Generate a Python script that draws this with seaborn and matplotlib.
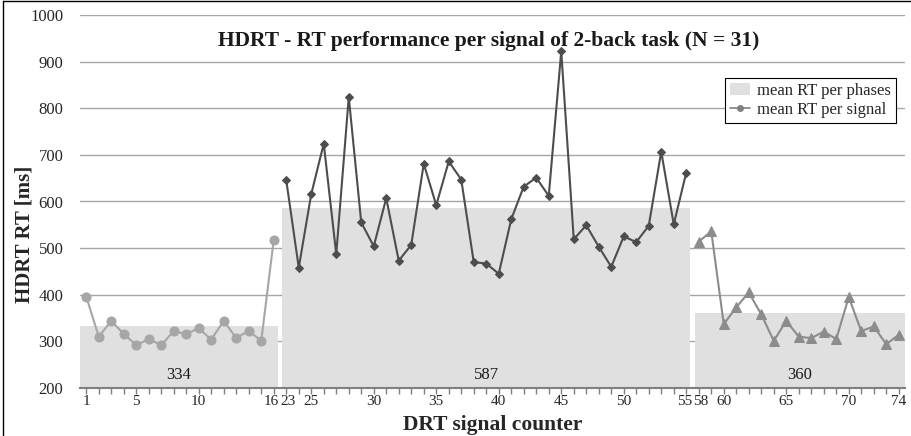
import matplotlib
matplotlib.use("Agg")
import matplotlib.pyplot as plt
import matplotlib.transforms as mtransforms
import seaborn as sns
import numpy as np
import pandas as pd
from matplotlib.patches import Patch
from matplotlib.lines import Line2D

# ---------------- data ----------------
signals_p1 = list(range(1, 17))
signals_p2 = list(range(23, 56))
signals_p3 = list(range(58, 75))

rt_p1 = [396, 310, 344, 316, 292, 305, 292, 322, 316, 328, 304, 344, 307, 323, 301, 518]
rt_p2 = [646, 458, 616, 724, 487, 824, 555, 504, 607, 473, 507, 681, 592, 686, 647, 470,
         467, 445, 562, 632, 651, 612, 922, 519, 549, 503, 460, 525, 513, 548, 707, 551, 662]
rt_p3 = [514, 536, 337, 373, 405, 358, 301, 344, 310, 307, 321, 305, 395, 322, 332, 294, 314]

phase_means = [334, 587, 360]
tick_signals = [1, 5, 10, 16, 23, 25, 30, 35, 40, 45, 50, 55, 58, 60, 65, 70, 74]

title = "HDRT - RT performance per signal of 2-back task (N = 31)"
xlabel = "DRT signal counter"
ylabel = "HDRT RT [ms]"

# ---------------- build table ----------------
signals = signals_p1 + signals_p2 + signals_p3
rts = rt_p1 + rt_p2 + rt_p3
phase = [1] * len(signals_p1) + [2] * len(signals_p2) + [3] * len(signals_p3)
df = pd.DataFrame({"signal": signals, "rt": rts, "phase": phase})
df["pos"] = np.arange(len(df))

sns.set_theme(style="white")
plt.rcParams["font.family"] = ["Liberation Serif", "DejaVu Serif"]

fig = plt.figure(figsize=(9.11, 4.36), dpi=100)
ax = fig.add_axes([80 / 911, 48 / 436, 825 / 911, 373 / 436])

# gridlines
ax.set_ylim(200, 1000)
ax.set_yticks(range(200, 1001, 100))
for y in range(300, 1001, 100):
    ax.axhline(y, color="#a6a6a6", lw=1.0, zorder=0)

# phase bars
counts = [len(signals_p1), len(signals_p2), len(signals_p3)]
starts = np.cumsum([0] + counts[:-1]) - 0.5
gap = 0.17
bar_left = []
bar_width = []
for i, (s, c) in enumerate(zip(starts, counts)):
    l = s + (gap if i > 0 else 0)
    r = s + c - (gap if i < len(counts) - 1 else 0)
    bar_left.append(l)
    bar_width.append(r - l)
ax.bar(bar_left, [m - 200 for m in phase_means], width=bar_width, bottom=200,
       align="edge", color="#e0e0e0", edgecolor="none", zorder=1)
for l, w, m in zip(bar_left, bar_width, phase_means):
    ax.text(l + w / 2, 228, str(m), ha="center", va="center", fontsize=12,
            color="#1a1a1a", zorder=2)

# lines per phase
styles = {1: ("#a6a6a6", "o", 6.5), 2: ("#4d4d4d", "D", 4), 3: ("#8c8c8c", "^", 6.5)}
for ph, (col, mk, ms) in styles.items():
    sub = df[df["phase"] == ph]
    sns.lineplot(data=sub, x="pos", y="rt", ax=ax, color=col, marker=mk,
                 markersize=ms, markeredgecolor=col, lw=1.5, zorder=3,
                 legend=False)

# axes styling
ax.set_xlim(-0.5, len(df) - 0.5)
for sp in ["left", "right", "top"]:
    ax.spines[sp].set_visible(False)
ax.spines["bottom"].set_color("#7f7f7f")
ax.spines["bottom"].set_linewidth(1.5)
tick_pos = [signals.index(s) for s in tick_signals]
ax.set_xticks(tick_pos)
ax.set_xticklabels([str(s) for s in tick_signals], fontsize=11)
ax.set_xticks(df["pos"], minor=True)
ax.tick_params(axis="x", which="both", direction="out", length=4, width=1,
               color="#7f7f7f", bottom=True, pad=1)
ax.tick_params(axis="y", length=0, labelsize=12, pad=12)

# nudge crowded neighbouring labels apart slightly
nudges = {"16": -2, "23": 2, "55": -2, "58": 2}
for lab in ax.get_xticklabels():
    d = nudges.get(lab.get_text())
    if d:
        lab.set_transform(lab.get_transform() +
                          mtransforms.ScaledTranslation(d / 100, 0, fig.dpi_scale_trans))

ax.set_xlabel(xlabel, fontsize=15.5, fontweight="bold", labelpad=5)
ax.set_ylabel(ylabel, fontsize=15, fontweight="bold")
ax.yaxis.set_label_coords(-55 / 825, (388 - 234) / 373)
ax.yaxis.label.set_verticalalignment("center")
ax.text(0.495, 0.93, title, transform=ax.transAxes, ha="center", va="center",
        fontsize=15.5, fontweight="bold", color="#1a1a1a", zorder=5)

handles = [Patch(facecolor="#e0e0e0", edgecolor="none"),
           Line2D([], [], color="#808080", marker="o", markersize=4, lw=1.2)]
leg = ax.legend(handles, ["mean RT per phases", "mean RT per signal"],
                loc="upper right", bbox_to_anchor=(0.995, 0.845), fontsize=12,
                frameon=True, fancybox=False, framealpha=1, edgecolor="black",
                borderpad=0.3, handlelength=1.2, handletextpad=0.4,
                labelspacing=0.2, borderaxespad=0.3)
leg.get_frame().set_linewidth(0.8)
leg.set_zorder(6)

# outer frame (left and top edges visible)
fig.add_artist(Line2D([3 / 911, 3 / 911], [0, 1 - 1.5 / 436], color="black", lw=1,
                      transform=fig.transFigure))
fig.add_artist(Line2D([3 / 911, 1], [1 - 1.5 / 436, 1 - 1.5 / 436], color="black",
                      lw=1, transform=fig.transFigure))

fig.savefig("out.png", dpi=100)
